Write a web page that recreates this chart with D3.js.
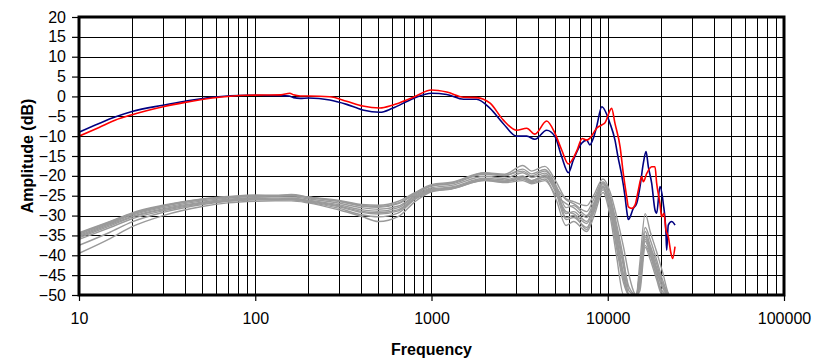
<!DOCTYPE html>
<html>
<head>
<meta charset="utf-8">
<script src="https://cdn.jsdelivr.net/npm/d3@7"></script>
<style>
  body { margin: 0; background: #fff; }
  text { font-family: "Liberation Sans", Arial, sans-serif; fill: #000; }
</style>
</head>
<body>
<svg id="chart" width="831" height="361"></svg>
<script>
// ─── data ──────────────────────────────────────────
const xTickValues = [10, 100, 1000, 10000, 100000];
const yTickValues = [-50, -45, -40, -35, -30, -25, -20, -15, -10, -5, 0, 5, 10, 15, 20];

const blueFreq = [10,13,16,20,30,40,57,90,140,155, 165,180,200,265,330,407,510,600,790,1000,
  1220,1520,1800,2150,2550,3040,3470,3860,4500,5020, 5480,5980,6380,7110,7590,7920,8270,8650,9250,10300,
  10990,11430,11950,12530,12800,13090,13970,14600,15240,15920, 16490,16990,17760,18540,18950,19770,20650,21390,21590,22050,
  23050,24080];
const blueDb = [-9,-6.8,-5.2,-3.8,-2.2,-1.2,-0.2,0.3,0.2,0.1, -0.3,-0.5,-0.4,-0.9,-2,-3.4,-4.0,-3,-0.5,0.8,
  0.5,-0.7,-0.7,-3.0,-6.8,-10.0,-10.0,-10.8,-8.5,-10.1, -15.2,-19.2,-16,-11.8,-11,-12.2,-10.6,-7.6,-2.6,-6.8,
  -11,-15.2,-19.4,-25.2,-28.6,-31,-28.2,-26.9,-22.7,-16.8, -13.9,-17.7,-21.9,-28.6,-29.4,-22.7,-26.9,-34.4,-38.7,-32.4,
  -31.5,-32.4];

const redFreq = [10,13,16,20,30,40,57,90,140,157, 165,180,200,265,330,407,510,600,790,1000,
  1220,1520,1800,2150,2550,3040,3470,3860,4500,5020, 5480,5980,6380,6700,7160,7590,7920,8270,8650,9250,
  9650,10520,10990,11750,12250,12800,13090,13690,14290,14910, 15590,15920,16640,17760,18540,18950,19770,20210,20840,21390,
  22050,22840,23350,24080];
const redDb = [-10,-7.8,-6,-4.6,-2.6,-1.5,-0.4,0.3,0.4,0.8, 0.4,0.1,0.1,-0.1,-1.2,-2.4,-2.9,-2.2,-0.2,1.6,
  1.1,-0.2,-0.3,-1.7,-5.9,-8.5,-8.0,-9.5,-6.2,-9.3, -13.5,-17.0,-15.5,-13.5,-10.6,-11,-10.5,-9.3,-8,-7.2,
  -6.6,-3.0,-6.8,-12.7,-19.4,-25.2,-27.8,-28.2,-27.3,-23.6, -20.2,-21.5,-19.4,-17.7,-17.7,-21.9,-26.9,-30.3,-29.4,-33.6,
  -35.3,-39.5,-40.8,-37.8];

// gray runs share one frequency grid
const grayFreq = [10,15,20,30,50,70,100,130,160,200, 300,400,500,650,800,1000,1300,2000,2600,3300,
  3700,4400,5100,5800,6400,7600,8300,9400,10300,11200, 12300,13200,14500,15200,16300,17400,18900,20400,22500,24000];
const gray1 = [-34.3,-31.5,-29.3,-27.4,-25.8,-25.2,-24.8,-24.9,-24.7,-25.3, -26.2,-27.2,-27.4,-26.4,-24.3,-22.2,-21.6,-19.2,-19.6,-17.4,
  -18.8,-17.6,-21.5,-25.8,-26.5,-27.5,-25,-20.8,-24,-30, -38,-45,-50,-42,-29.5,-34,-39,-44,-50,-50];
const gray2 = [-34.7,-31.8,-29.6,-27.7,-26,-25.4,-25,-25.1,-25,-25.5, -26.5,-27.6,-27.9,-27,-24.7,-22.6,-22,-19.6,-20,-18.3,
  -19.5,-18.4,-22.5,-28,-27.5,-30,-27,-21.8,-25.5,-33, -42,-48,-50,-44,-33,-36,-41,-46,-50,-50];
const gray3 = [-35,-32,-29.9,-28,-26.3,-25.6,-25.2,-25.3,-25.3,-25.8, -26.9,-28,-28.4,-27.6,-25,-23,-22.4,-20.1,-20.6,-19.2,
  -20.4,-19.3,-23.5,-29.5,-29,-31.5,-28,-22.6,-27,-35, -45,-50,-50,-46,-34,-37.5,-42,-47,-50,-50];
const gray4 = [-35.3,-32.3,-30.2,-28.3,-26.6,-25.9,-25.5,-25.6,-25.6,-26.1, -27.3,-28.5,-28.9,-28,-25.3,-23.3,-22.8,-20.6,-21,-20,
  -21.2,-20,-24.5,-31,-30.5,-33,-29.5,-23.5,-28.5,-38, -47,-50,-50,-48,-36,-39,-43.5,-48,-50,-50];
const gray5 = [-35.6,-32.6,-30.4,-28.5,-26.8,-26.1,-25.7,-25.8,-25.7,-26.3, -27.6,-28.9,-29.3,-28.5,-25.6,-23.5,-23,-20.9,-21.4,-20.8,
  -21.7,-20.8,-26,-32.5,-31.5,-34,-30.5,-24.2,-30,-40, -50,-50,-50,-47,-37.5,-40,-45,-49,-50,-50];
const gray6 = [-36,-33,-30.8,-28.8,-27,-26.3,-25.9,-26,-25.9,-26.5, -27.8,-29.2,-29.6,-28.8,-25.9,-23.7,-23.2,-21.2,-21.7,-21.2,
  -22,-21.2,-25,-27,-28,-30.5,-27.5,-22.2,-26,-34, -43,-50,-50,-45,-35,-38.5,-44,-48,-50,-50];
const gray7 = [-37.5,-34.2,-31.6,-29.2,-27.2,-26.4,-26,-26,-26,-26.6, -28.2,-29.8,-30.3,-29.3,-26,-23.8,-23.2,-21,-21.3,-20.5,
  -21.5,-20.3,-24,-29,-29.5,-32,-28.5,-23,-28,-37, -46,-50,-50,-49,-38,-41,-46,-50,-50,-50];
const gray8 = [-39.5,-35.8,-32.8,-30,-27.7,-26.8,-26.4,-26.3,-26.3,-26.8, -28.6,-30.2,-31.5,-30.2,-26.6,-24,-23.3,-21.1,-21.5,-20.3,
  -21.2,-19.8,-23,-26,-27,-29,-26,-21.5,-25,-32, -41,-49,-50,-46,-36.5,-39.5,-45,-49.5,-50,-50];
const gray9 = [-34.5,-31.6,-29.5,-27.6,-25.9,-25.3,-25,-25,-24.9,-25.4, -26.4,-27.4,-27.7,-26.8,-24.5,-22.5,-21.8,-19.3,-19.8,-18.8,
  -20,-18.8,-23,-30.5,-30,-33.5,-29,-22.8,-27.5,-36, -45,-50,-50,-47,-35.5,-38,-43,-47,-50,-50];
const grayRuns = [gray1, gray2, gray3, gray4, gray5, gray6, gray7, gray8, gray9];

// ─── layout ────────────────────────────────────────
const plot = { left: 79, right: 784, top: 17, bottom: 295 };

const svg = d3.select("#chart");

const x = d3.scaleLog().domain([10, 100000]).range([plot.left, plot.right]);
const y = d3.scaleLinear().domain([-50, 20]).range([plot.bottom, plot.top]);

svg.append("defs").append("clipPath").attr("id", "plot-clip")
  .append("rect")
    .attr("x", plot.left).attr("y", plot.top)
    .attr("width", plot.right - plot.left).attr("height", plot.bottom - plot.top);

// Grid
const grid = svg.append("g").attr("class", "grid")
  .attr("stroke", "#000").attr("stroke-width", 1).attr("shape-rendering", "crispEdges");

grid.selectAll("line.v")
  .data(x.ticks())
  .join("line")
    .attr("class", "v")
    .attr("x1", d => Math.round(x(d)) + 0.5).attr("x2", d => Math.round(x(d)) + 0.5)
    .attr("y1", plot.top).attr("y2", plot.bottom);

grid.selectAll("line.h")
  .data(yTickValues)
  .join("line")
    .attr("class", "h")
    .attr("x1", plot.left).attr("x2", plot.right)
    .attr("y1", d => Math.round(y(d)) + 0.5).attr("y2", d => Math.round(y(d)) + 0.5);

// Curves
const line = d3.line()
  .x(d => x(d[0]))
  .y(d => y(d[1]))
  .curve(d3.curveMonotoneX);

const curves = svg.append("g").attr("clip-path", "url(#plot-clip)")
  .attr("fill", "none").attr("stroke-linejoin", "round");

curves.selectAll("path.gray")
  .data(grayRuns)
  .join("path")
    .attr("class", "gray")
    .attr("d", run => line(run.map((v, i) => [grayFreq[i], v])))
    .attr("stroke", "#9a9a9a")
    .attr("stroke-width", 1.4);

curves.append("path")
  .attr("d", line(blueDb.map((v, i) => [blueFreq[i], v])))
  .attr("stroke", "#000080")
  .attr("stroke-width", 1.6);

curves.append("path")
  .attr("d", line(redDb.map((v, i) => [redFreq[i], v])))
  .attr("stroke", "#ff0000")
  .attr("stroke-width", 1.6);

// Axes
const yAxis = svg.append("g")
  .attr("transform", `translate(${plot.left},0)`)
  .call(d3.axisLeft(y).tickValues(yTickValues).tickSize(7).tickPadding(6));
const xAxis = svg.append("g")
  .attr("transform", `translate(0,${plot.bottom})`)
  .call(d3.axisBottom(x).tickValues(xTickValues).tickFormat(d3.format("d")).tickSize(6).tickPadding(12));

[yAxis, xAxis].forEach(ax => {
  ax.select(".domain").remove();
  ax.selectAll(".tick line").attr("stroke", "#000").attr("stroke-width", 1.2);
  ax.selectAll(".tick text")
    .attr("font-family", "'Liberation Sans', Arial, sans-serif")
    .attr("font-size", 16).attr("fill", "#000");
});

// Frame
svg.append("rect")
  .attr("x", plot.left).attr("y", plot.top)
  .attr("width", plot.right - plot.left).attr("height", plot.bottom - plot.top)
  .attr("fill", "none").attr("stroke", "#000").attr("stroke-width", 3);

// Titles
svg.append("text")
  .attr("transform", `translate(33,${(plot.top + plot.bottom) / 2}) rotate(-90)`)
  .attr("text-anchor", "middle")
  .attr("font-size", 16).attr("font-weight", "bold")
  .text("Amplitude (dB)");

svg.append("text")
  .attr("x", (plot.left + plot.right) / 2).attr("y", 355)
  .attr("text-anchor", "middle")
  .attr("font-size", 16).attr("font-weight", "bold")
  .text("Frequency");
</script>
</body>
</html>
